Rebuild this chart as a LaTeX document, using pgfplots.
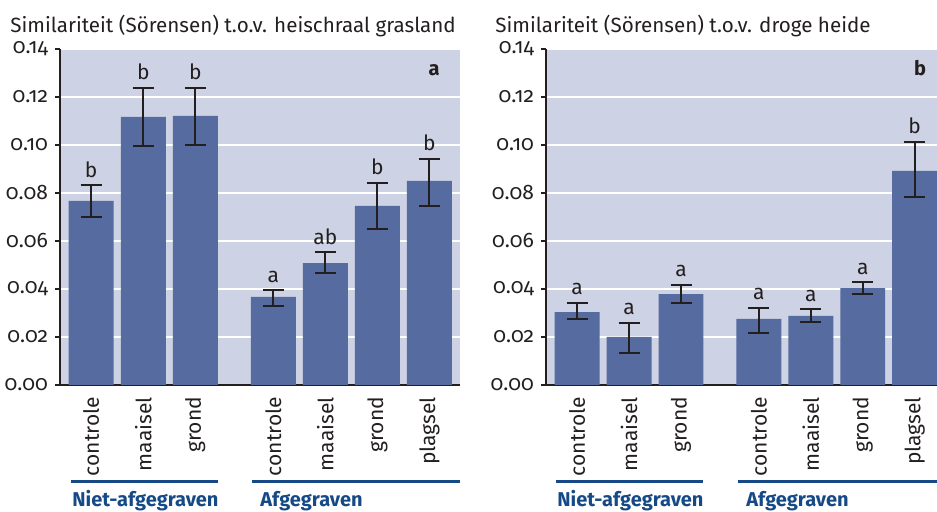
\documentclass[border=0pt]{standalone}
\usepackage{fontspec}
\setmainfont{Fira Sans}[Numbers=OldStyle]
\usepackage{pgfplots}
\pgfplotsset{compat=1.18}
\usepackage{pgfplotstable}
\definecolor{barblue}{RGB}{86,107,159}
\definecolor{bgblue}{RGB}{205,210,228}
\definecolor{grpblue}{RGB}{22,74,135}
\definecolor{ink}{RGB}{35,31,32}

\pgfplotstableread{
x y ep em lab
0 0.0767 0.0066 0.0068 b
1 0.1117 0.0122 0.0123 b
2 0.1121 0.0117 0.0121 b
3.5 0.0367 0.0028 0.0039 a
4.5 0.0508 0.0046 0.0043 ab
5.5 0.0746 0.0097 0.0097 b
6.5 0.0850 0.0092 0.0104 b
}\leftdata

\pgfplotstableread{
x y ep em lab
0 0.0304 0.0038 0.0029 a
1 0.0200 0.0060 0.0068 a
2 0.0379 0.0039 0.0036 a
3.5 0.0275 0.0047 0.0057 a
4.5 0.0288 0.0027 0.0027 a
5.5 0.0404 0.0025 0.0024 a
6.5 0.0892 0.0122 0.0109 b
}\rightdata

\pgfplotsset{panel/.style={
  anchor=south west,
  scale only axis, height=168pt, ymin=0, ymax=0.14, xmin=-0.6,
  axis x line*=bottom, axis y line*=left,
  axis line style={ink, line width=1pt},
  axis background/.style={fill=bgblue},
  ytick={0,0.02,0.04,0.06,0.08,0.10,0.12,0.14},
  ymajorgrids, grid style={white, line width=1pt},
  scaled y ticks=false,
  yticklabel style={/pgf/number format/.cd, fixed, fixed zerofill, precision=2, assume math mode=true},
  tick label style={font=\fontsize{10.5}{12}\selectfont, text=ink},
  y tick style={ink, line width=0.8pt}, tick align=outside, major tick length=2.5pt,
  xtick={0,1,2,3.5,4.5,5.5,6.5},
  xticklabels={controle,maaisel,grond,controle,maaisel,grond,plagsel},
  x tick style={draw=none},
  x tick label style={rotate=90, anchor=east},
  clip=false,
}}

\begin{document}
\begin{tikzpicture}
\useasboundingbox (0,0) rectangle (468.5pt,256pt);

\begin{axis}[panel, at={(30pt,63.5pt)}, width=200pt, xmax=7.087]
\addplot[ybar, bar width=0.865, fill=barblue, draw=none,
  error bars/.cd, y dir=both, y explicit,
  error bar style={ink, line width=1pt},
  error mark options={ink, rotate=90, mark size=5.25pt, line width=1pt}]
  table[x=x, y=y, y error plus=ep, y error minus=em]{\leftdata};
\addplot[draw=none, nodes near coords, point meta=explicit symbolic,
  every node near coord/.style={anchor=base, yshift=4pt, font=\fontsize{10.5}{12}\selectfont, text=ink}]
  table[x=x, y expr=\thisrow{y}+\thisrow{ep}, meta=lab]{\leftdata};
\end{axis}

\begin{axis}[panel, at={(273pt,63.5pt)}, width=195.5pt, xmax=6.93]
\addplot[ybar, bar width=0.865, fill=barblue, draw=none,
  error bars/.cd, y dir=both, y explicit,
  error bar style={ink, line width=1pt},
  error mark options={ink, rotate=90, mark size=5.25pt, line width=1pt}]
  table[x=x, y=y, y error plus=ep, y error minus=em]{\rightdata};
\addplot[draw=none, nodes near coords, point meta=explicit symbolic,
  every node near coord/.style={anchor=base, yshift=4pt, font=\fontsize{10.5}{12}\selectfont, text=ink}]
  table[x=x, y expr=\thisrow{y}+\thisrow{ep}, meta=lab]{\rightdata};
\end{axis}

% titles
\node[anchor=base west, inner sep=0pt, text=ink, font=\fontsize{10.3}{12}\selectfont] at (5pt,239.5pt) {Similariteit (Sörensen) t.o.v. heischraal grasland};
\node[anchor=base west, inner sep=0pt, text=ink, font=\fontsize{10.3}{12}\selectfont] at (247.5pt,239.5pt) {Similariteit (Sörensen) t.o.v. droge heide};
% panel letters
\node[anchor=base, inner sep=0pt, text=ink, font=\bfseries\fontsize{10}{12}\selectfont] at (217pt,218pt) {a};
\node[anchor=base, inner sep=0pt, text=ink, font=\bfseries\fontsize{10}{12}\selectfont] at (460pt,218pt) {b};
% group lines and labels
\draw[grpblue, line width=1.5pt] (35.5pt,15pt) -- (109pt,15pt);
\draw[grpblue, line width=1.5pt] (126pt,15pt) -- (230pt,15pt);
\draw[grpblue, line width=1.5pt] (278pt,15pt) -- (351.5pt,15pt);
\draw[grpblue, line width=1.5pt] (369pt,15pt) -- (468.5pt,15pt);
\node[anchor=base west, inner sep=0pt, text=grpblue, font=\bfseries\fontsize{10}{12}\selectfont] at (36pt,2.5pt) {Niet-afgegraven};
\node[anchor=base west, inner sep=0pt, text=grpblue, font=\bfseries\fontsize{10}{12}\selectfont] at (130pt,2.5pt) {Afgegraven};
\node[anchor=base west, inner sep=0pt, text=grpblue, font=\bfseries\fontsize{10}{12}\selectfont] at (278.5pt,2.5pt) {Niet-afgegraven};
\node[anchor=base west, inner sep=0pt, text=grpblue, font=\bfseries\fontsize{10}{12}\selectfont] at (373pt,2.5pt) {Afgegraven};
\end{tikzpicture}
\end{document}
